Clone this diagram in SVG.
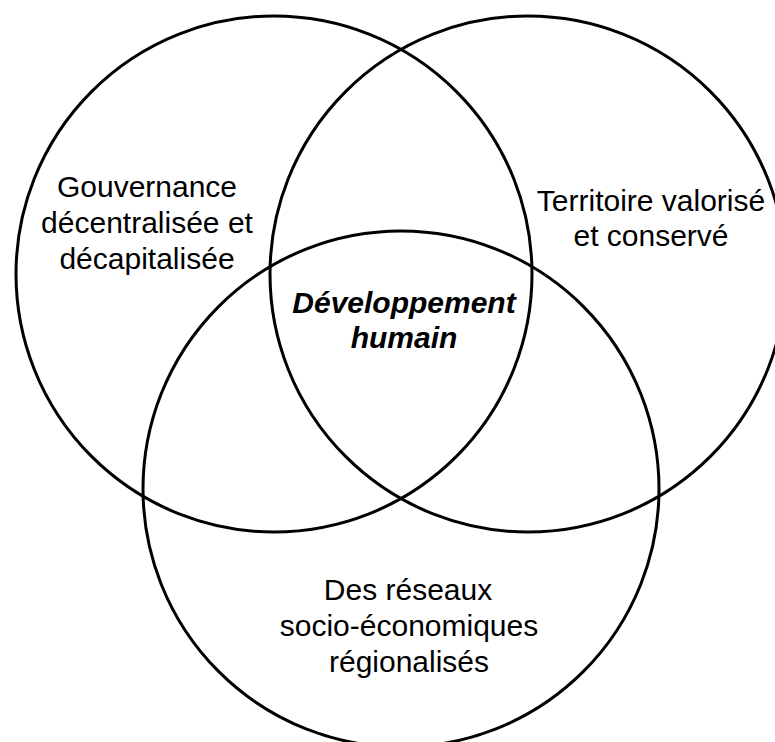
<svg xmlns="http://www.w3.org/2000/svg" width="775" height="742" viewBox="0 0 775 742">
<style>
.c{fill:none;stroke:#000;stroke-width:3}
.t{font-family:"Liberation Sans",Arial,sans-serif;font-size:30px;fill:#000;text-anchor:middle}
.b{font-weight:bold;font-style:italic}
</style>
<rect width="775" height="742" fill="#fff"/>
<g id="gouvernance">
<circle class="c" cx="274" cy="274" r="258"/>
<text class="t" x="147" y="197">Gouvernance</text>
<text class="t" x="147" y="233">décentralisée et</text>
<text class="t" x="147" y="269">décapitalisée</text>
</g>
<g id="territoire">
<circle class="c" cx="528" cy="274" r="258"/>
<text class="t" x="651" y="211">Territoire valorisé</text>
<text class="t" x="651" y="246">et conservé</text>
</g>
<g id="reseaux">
<circle class="c" cx="401" cy="489" r="258"/>
<text class="t" x="408" y="600">Des réseaux</text>
<text class="t" x="409" y="636">socio-économiques</text>
<text class="t" x="409" y="672">régionalisés</text>
</g>
<g id="developpement">
<text class="t b" x="404" y="313">Développement</text>
<text class="t b" x="404" y="348">humain</text>
</g>
<g id="connectors"/>
</svg>
